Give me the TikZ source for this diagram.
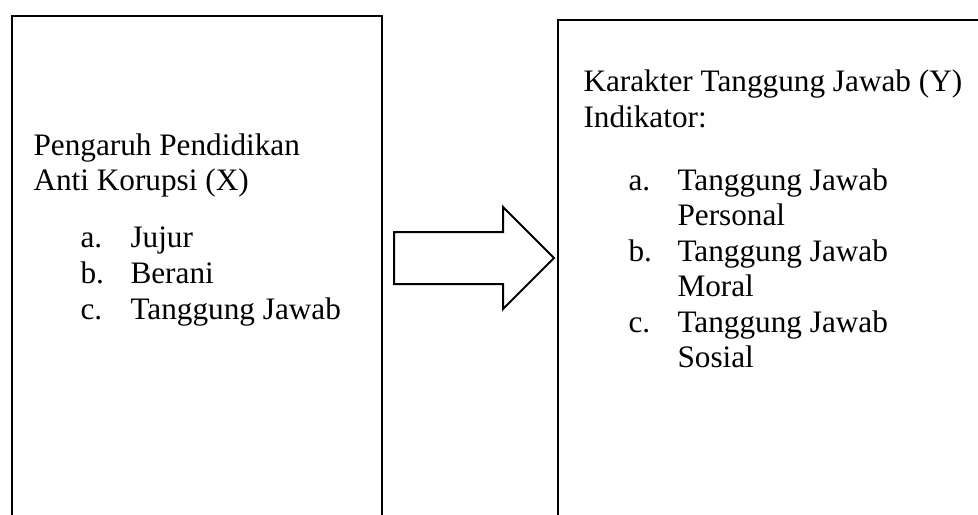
\documentclass[tikz,border=0pt]{standalone}
\usepackage{fontspec}
\setmainfont{Liberation Serif}
\usetikzlibrary{shapes.arrows}

\tikzset{teks/.style={anchor=base west, inner sep=0pt}}

\begin{document}
\begin{tikzpicture}[x=0.4pt,y=-0.4pt,font=\fontsize{12.5}{15}\selectfont]
					\useasboundingbox (0,0) rectangle (978,514);
					\clip (0,0) rectangle (978,514);
					
					% kotak kiri dan kanan
					\draw [line width=1pt] (12,540) |- (382,16) -- (382,540);
					\draw [line width=0.8pt] (558,540) |- (1000,20);
					
					\node (x1) [teks] at (33,155) {Pengaruh Pendidikan};
					\node (x2) [teks] at (33,190) {Anti Korupsi (X)};
					\node (xa) [teks] at (80,247) {a.};
					\node (xa2) [teks] at (130,247) {Jujur};
					\node (xb) [teks] at (80,283) {b.};
					\node (xb2) [teks] at (130,283) {Berani};
					\node (xc) [teks] at (80,319) {c.};
					\node (xc2) [teks] at (130,319) {Tanggung Jawab};
					
					\node (y1) [teks] at (583,91) {Karakter Tanggung Jawab (Y)};
					\node (y2) [teks] at (583,127) {Indikator:};
					\node (ya) [teks] at (628,190) {a.};
					\node (ya2) [teks] at (677,190) {Tanggung Jawab};
					\node (ya3) [teks] at (677,225.5) {Personal};
					\node (yb) [teks] at (628,261) {b.};
					\node (yb2) [teks] at (677,261) {Tanggung Jawab};
					\node (yb3) [teks] at (677,296.5) {Moral};
					\node (yc) [teks] at (628,332) {c.};
					\node (yc2) [teks] at (677,332) {Tanggung Jawab};
					\node (yc3) [teks] at (677,367.5) {Sosial};
					
					\node (panah) [single arrow, draw, line width=0.8pt, minimum height=64pt, inner xsep=0pt, inner ysep=10pt, single arrow head extend=10pt, anchor=tail] at (393,258) {};
\end{tikzpicture}
\end{document}
